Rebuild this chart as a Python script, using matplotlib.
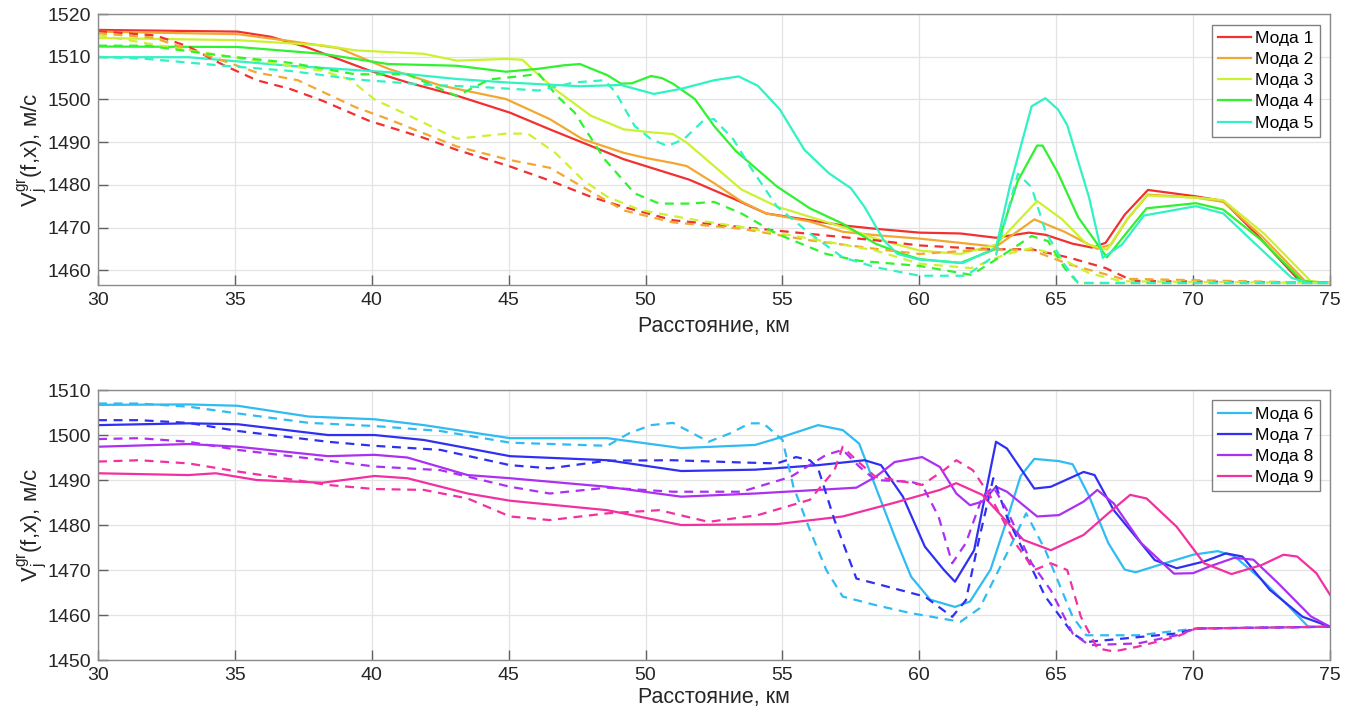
import matplotlib
matplotlib.use('Agg')
import matplotlib.pyplot as plt
import colorsys

plt.rcParams['font.family'] = ['Liberation Sans', 'DejaVu Sans']
plt.rcParams['mathtext.fontset'] = 'custom'
plt.rcParams['mathtext.rm'] = 'Liberation Sans'

### Data: distance in km, group velocity in m/s
# top panel, solid lines
m1_x = [30, 35.1, 36.3, 37.6, 39.9, 41.3, 43.1, 45.05, 46.5, 47.7, 49.2, 50, 51.6, 53.3, 54.4, 56, 57.2, 58.4, 60, 61.5, 62.8, 64.0, 64.6, 65.6, 66.3, 66.8, 67.5, 68.35, 70.1, 71.1, 72.3, 73.9, 75]
m1_v = [1516.3, 1515.9, 1514.7, 1512.3, 1506.8, 1504, 1500.9, 1496.9, 1493, 1489.9, 1486, 1484.4, 1481.2, 1476.5, 1473.3, 1471.7, 1470.5, 1469.7, 1468.8, 1468.6, 1467.6, 1468.8, 1468.3, 1466.2, 1465.3, 1466.4, 1473, 1478.8, 1477.3, 1476.2, 1468.5, 1457.4, 1457]
m2_x = [30, 35.1, 37, 38.8, 40.6, 42.5, 44.9, 46.5, 47.7, 49.2, 50, 51, 51.5, 52.5, 53.5, 54.4, 56, 57.2, 58.4, 60, 61.5, 62.8, 64.2, 65.3, 66.5, 67.0, 67.6, 68.35, 70.1, 71.1, 72.5, 74.1, 75]
m2_v = [1515.9, 1515.3, 1513.7, 1512, 1507.2, 1503.3, 1500.1, 1495.4, 1490.7, 1487.5, 1486.3, 1485.1, 1484.4, 1480.4, 1476.1, 1473.3, 1471.4, 1469, 1468.2, 1467.4, 1466.4, 1465.5, 1471.9, 1469, 1465, 1466, 1472, 1477.7, 1477, 1476, 1468, 1457.4, 1457]
m3_x = [30, 35.1, 38.2, 39.4, 41.9, 43.1, 44.9, 45.5, 46.1, 46.75, 48, 49.2, 50.2, 51, 51.5, 52.5, 53.5, 54.8, 56, 57.2, 58.4, 60, 61.5, 62.8, 64.3, 65.2, 66.1, 66.85, 67.6, 68.3, 70.1, 71.1, 72.6, 74.3, 75]
m3_v = [1514.4, 1513.9, 1512.7, 1511.5, 1510.7, 1509.1, 1509.5, 1509.3, 1505.7, 1502.1, 1496.2, 1493, 1492.3, 1491.9, 1489.9, 1484.4, 1478.9, 1474.9, 1472.5, 1470.1, 1467.4, 1464.6, 1463.8, 1466, 1476.2, 1472, 1466.2, 1464.8, 1472, 1477.5, 1477, 1476.4, 1468.5, 1457.4, 1457]
m4_x = [30, 35.1, 38.2, 40.6, 43.1, 44.9, 46.1, 47.0, 47.6, 48.6, 49.1, 49.5, 50.2, 50.6, 51.0, 51.8, 52.5, 53.3, 54.8, 56, 57.2, 58.4, 59.4, 60, 61.5, 62.8, 63.6, 64.3, 64.5, 65.06, 65.8, 66.85, 67.6, 68.3, 70.1, 71.1, 72.5, 74, 75]
m4_v = [1512.4, 1512.3, 1510.7, 1508.3, 1507.9, 1506.5, 1507.2, 1508.0, 1508.3, 1505.7, 1503.7, 1503.8, 1505.5, 1505.0, 1503.7, 1500.1, 1493.8, 1487.9, 1479.6, 1474.5, 1470.9, 1466.2, 1463.8, 1462.6, 1461.7, 1465, 1481, 1489.2, 1489.2, 1482.8, 1472.4, 1463, 1469, 1474.5, 1475.7, 1474.2, 1467, 1457.4, 1457]
m5_x = [30, 33.3, 37, 40.6, 43.1, 44.9, 46.1, 47.6, 49.1, 50.3, 51.3, 52.5, 53.4, 54.1, 54.9, 55.8, 56.7, 57.5, 58.0, 58.7, 59.2, 60, 61.6, 62.8, 63.3, 64.1, 64.6, 65.06, 65.4, 66.2, 66.7, 67.4, 68.2, 70.1, 71.1, 72.3, 73.6, 74.2, 75]
m5_v = [1509.9, 1509.9, 1507.9, 1506.4, 1504.8, 1504, 1503.6, 1503.1, 1503.4, 1501.3, 1502.5, 1504.5, 1505.4, 1503.2, 1497.7, 1488.2, 1482.7, 1479.2, 1474.8, 1467, 1463.8, 1462.5, 1461.7, 1465.3, 1479.5, 1498.4, 1500.3, 1497.7, 1494, 1477, 1462.9, 1466, 1472.8, 1475, 1473.3, 1466, 1458.2, 1457, 1457]

# top panel, dashed lines
m1d_x = [30, 32.1, 33.3, 34.6, 35.8, 37, 38.2, 39.9, 41.9, 43.1, 45.05, 46.5, 48, 49.2, 51, 53.5, 56, 58.4, 60, 62.5, 64.1, 65.5, 66.8, 67.8, 75]
m1d_v = [1516, 1515, 1512.4, 1508, 1504.5, 1502.5, 1499.7, 1495, 1491, 1488.2, 1484.3, 1481, 1477.2, 1474.8, 1471.7, 1470.1, 1468.5, 1467, 1465.8, 1464.9, 1464.9, 1462.9, 1460.5, 1457.5, 1457]
m2d_x = [30, 32, 34.6, 35.8, 37.3, 39.4, 40.6, 43.1, 45.05, 46.5, 48, 49.2, 51, 53.5, 56, 58.4, 60, 62.5, 64.1, 65.5, 67.4, 75]
m2d_v = [1515.5, 1514.5, 1509, 1506.3, 1504.5, 1498.2, 1495.4, 1489, 1485.8, 1484, 1478.4, 1474, 1471.2, 1469.7, 1467, 1465, 1463.8, 1464.9, 1464.7, 1461.3, 1458, 1457]
m3d_x = [30, 33.3, 35.8, 38.2, 39.2, 40.1, 41.3, 43.1, 44.9, 45.7, 46.7, 47.7, 48.6, 49.8, 51.6, 53.5, 56, 58.4, 60, 61.9, 63.1, 64.1, 64.8, 66.2, 67.4, 75]
m3d_v = [1515.1, 1511.5, 1509.1, 1506.7, 1504.7, 1500, 1496.4, 1490.8, 1492, 1492, 1487.5, 1481.2, 1477.2, 1474.1, 1472, 1470.1, 1467.4, 1464.6, 1461.5, 1460.5, 1463.6, 1465.2, 1464, 1459.3, 1457.4, 1457]
m4d_x = [30, 31.8, 34.6, 37, 39.4, 41.3, 43.1, 44.3, 45.5, 46.1, 46.75, 47.4, 48.5, 49.6, 50.5, 51.6, 52.5, 53.5, 54.8, 56.6, 57.8, 60, 61.9, 62.9, 64.1, 64.7, 65.3, 65.8, 75]
m4d_v = [1512.6, 1512.6, 1510.2, 1508.6, 1505.9, 1505.9, 1500.8, 1504.7, 1505.5, 1506, 1500.9, 1497, 1486, 1478, 1475.6, 1475.6, 1476, 1473.3, 1468.5, 1463.8, 1462.2, 1461, 1458.9, 1462.9, 1468, 1466.8, 1460.5, 1457, 1457]
m5d_x = [30, 31.8, 34.6, 37, 39.4, 41.9, 44.3, 46.1, 47.4, 48.5, 48.9, 49.6, 50.2, 50.8, 51.4, 52.1, 52.5, 53.2, 53.8, 54.8, 56, 57.2, 58.4, 60, 61.7, 62.8, 63.6, 64.1, 64.6, 65.3, 65.8, 75]
m5d_v = [1510, 1509.5, 1507.9, 1506.7, 1504.7, 1503.5, 1502.8, 1502.1, 1504, 1504.5, 1501.7, 1493.8, 1490.7, 1489.1, 1490.7, 1495, 1495.4, 1490.7, 1484.4, 1474.9, 1468.6, 1463, 1460.7, 1458.7, 1458.7, 1463.6, 1482.6, 1479.4, 1469.2, 1461.3, 1457, 1457]

# bottom panel, solid lines
m6_x = [30, 33.3, 35.1, 37.7, 40.1, 41.9, 45.05, 48.6, 51.3, 54, 55, 56.3, 57.2, 57.8, 58.4, 59.1, 59.7, 60.4, 61.3, 61.85, 62.6, 63.2, 63.7, 64.2, 65.1, 65.6, 66.2, 66.9, 67.5, 67.9, 68.8, 70, 70.9, 71.5, 72.5, 73.5, 74.2, 75]
m6_v = [1506.7, 1506.8, 1506.5, 1504.1, 1503.5, 1502.2, 1499.3, 1499.3, 1497.1, 1497.8, 1499.6, 1502.2, 1501.1, 1498.1, 1488.5, 1477.4, 1468.5, 1463.4, 1461.8, 1463, 1470.1, 1481.2, 1490.9, 1494.7, 1494.2, 1493.5, 1486.4, 1476, 1470.1, 1469.5, 1471.2, 1473.4, 1474.2, 1473.1, 1467.9, 1461.9, 1457.4, 1457.4]
m7_x = [30, 33.3, 35.1, 38.4, 40.1, 41.9, 45.05, 48.6, 51.3, 54, 56.3, 58, 58.6, 59.4, 60.2, 60.9, 61.3, 62, 62.8, 63.2, 64.2, 64.8, 66.0, 66.4, 67.1, 67.9, 68.6, 69.4, 70.4, 71.2, 71.8, 72.8, 74, 75]
m7_v = [1502.2, 1502.6, 1502.4, 1500, 1500, 1498.9, 1495.3, 1494.4, 1492, 1492.3, 1493.3, 1494.4, 1493.3, 1486.3, 1475.2, 1470, 1467.4, 1474.4, 1498.5, 1497, 1488.1, 1488.5, 1491.8, 1491.1, 1483.3, 1477.4, 1472.2, 1470.4, 1471.9, 1473.7, 1473, 1465.6, 1459.6, 1457.4]
m8_x = [30, 33.3, 35.1, 38.4, 40.1, 41.3, 43.5, 45.05, 48.6, 51.3, 54, 57.7, 58.4, 59.1, 60.1, 60.75, 61.35, 61.85, 62.3, 62.8, 63.2, 64.3, 65.1, 66, 66.5, 67.1, 68.1, 69.3, 70, 70.6, 71.5, 72.2, 73.1, 74.3, 75]
m8_v = [1497.4, 1498, 1497.4, 1495.3, 1495.6, 1495, 1491.1, 1490.4, 1488.5, 1486.3, 1487, 1488.3, 1490.7, 1494, 1495.1, 1492.9, 1487, 1484.4, 1485.2, 1488.5, 1487.4, 1481.9, 1482.2, 1485.2, 1487.8, 1484.8, 1476, 1469.2, 1469.3, 1470.8, 1472.7, 1472.3, 1467.1, 1459.7, 1457.4]
m9_x = [30, 33.3, 34.3, 35.8, 38.2, 40.1, 41.3, 43.5, 45.05, 48.6, 51.3, 54.8, 57.2, 59.0, 60.75, 61.35, 62.3, 63.8, 64.8, 66, 66.9, 67.7, 68.3, 69.4, 70.4, 71.4, 72.5, 73.3, 73.8, 74.5, 75]
m9_v = [1491.5, 1491.1, 1491.5, 1490, 1489.4, 1490.9, 1490.4, 1487, 1485.4, 1483.3, 1480, 1480.2, 1481.9, 1484.8, 1487.8, 1489.3, 1486.7, 1476.7, 1474.4, 1477.8, 1482.6, 1486.7, 1485.9, 1479.6, 1471.5, 1469.1, 1471.1, 1473.4, 1473, 1469.3, 1464.5]

# bottom panel, dashed lines
m6d_x = [30, 31.5, 33.3, 35.1, 37.7, 40.1, 42.5, 45.05, 48.6, 49.4, 50.2, 51, 51.5, 52.3, 53.1, 53.8, 54.3, 55, 55.4, 56, 56.6, 57.2, 58.4, 59.7, 61.5, 62.2, 63.2, 63.9, 64.6, 65.6, 66.1, 68, 70.1, 75]
m6d_v = [1507, 1507, 1506.3, 1504.8, 1502.7, 1502, 1500.9, 1498.3, 1497.6, 1500.4, 1502.2, 1502.7, 1501.1, 1498.5, 1500.4, 1502.6, 1502.6, 1498.9, 1488.5, 1478.9, 1470, 1464.1, 1462.2, 1460.4, 1458.5, 1461.5, 1473.7, 1482.6, 1474.4, 1459.6, 1455.5, 1455.5, 1457, 1457.4]
m7d_x = [30, 31.5, 33.3, 35.1, 38.4, 40.1, 42.5, 45.05, 46.5, 48.6, 51, 53.5, 54.8, 55.5, 56, 56.3, 56.9, 57.7, 58.4, 60.2, 61.2, 61.7, 62.2, 62.7, 63.2, 63.9, 64.6, 65.6, 66.1, 67.5, 69.4, 70.1, 75]
m7d_v = [1503.3, 1503.3, 1502.7, 1500.9, 1498.5, 1497.6, 1496.7, 1493.3, 1492.6, 1494.3, 1494.4, 1493.9, 1493.7, 1495.1, 1494.4, 1492.6, 1481.1, 1468.1, 1467, 1464.1, 1459.6, 1463.3, 1477.4, 1490.4, 1481.8, 1473, 1464.1, 1455.9, 1454, 1454.8, 1455.9, 1457, 1457.4]
m8d_x = [30, 31.5, 33.3, 35.1, 38.4, 40.1, 42.5, 45.05, 46.5, 48.6, 51, 53.5, 55.3, 56.6, 57.2, 57.8, 58.4, 59.7, 60.1, 60.7, 61.2, 61.7, 62.3, 62.7, 63.2, 64.1, 64.8, 65.6, 66.2, 68, 69.4, 70.1, 75]
m8d_v = [1499.1, 1499.3, 1498.5, 1496.7, 1494.3, 1493, 1492.2, 1488.5, 1487, 1488.3, 1487.4, 1487.4, 1490.7, 1495.6, 1496.7, 1493, 1490, 1489.6, 1488.9, 1481.9, 1471.5, 1476, 1486.3, 1488.5, 1483.3, 1471.5, 1465.5, 1455.9, 1453.3, 1453.7, 1455.5, 1457, 1457.4]
m9d_x = [30, 31.5, 33.3, 35.1, 37.2, 38.4, 40.1, 41.9, 43.5, 45.05, 46.5, 48.6, 50.5, 52.3, 54.1, 56, 56.9, 57.2, 57.7, 58.4, 59.1, 60.1, 60.9, 61.35, 61.95, 62.6, 63.5, 64.2, 64.8, 65.4, 65.9, 66.5, 67.1, 68, 69.4, 70.1, 75]
m9d_v = [1494.1, 1494.4, 1493.7, 1491.9, 1490, 1488.9, 1488, 1487.8, 1485.9, 1481.9, 1481.1, 1482.6, 1483.3, 1480.7, 1482.2, 1485.6, 1492.2, 1497.4, 1494.4, 1490.7, 1490, 1488.9, 1492.2, 1494.4, 1492.2, 1486.3, 1476, 1470, 1471.5, 1470, 1459.6, 1452.6, 1451.9, 1453, 1455.2, 1457, 1457.4]

labels = ['Мода ' + str(i) for i in range(1, 10)]
hues = [0, 37, 72, 120, 165, 197, 240, 278, 325]
###

colors = [colorsys.hsv_to_rgb(h / 360.0, 0.8, 0.95) for h in hues]

solid = [(m1_x, m1_v), (m2_x, m2_v), (m3_x, m3_v), (m4_x, m4_v), (m5_x, m5_v),
         (m6_x, m6_v), (m7_x, m7_v), (m8_x, m8_v), (m9_x, m9_v)]
dashed = [(m1d_x, m1d_v), (m2d_x, m2d_v), (m3d_x, m3d_v), (m4d_x, m4d_v), (m5d_x, m5d_v),
          (m6d_x, m6d_v), (m7d_x, m7d_v), (m8d_x, m8d_v), (m9d_x, m9d_v)]

fig = plt.figure(figsize=(13.58, 7.2), dpi=100)
ax1 = fig.add_axes([0.0722, 0.604, 0.9072, 0.3764])
ax2 = fig.add_axes([0.0722, 0.0833, 0.9072, 0.375])


def style(ax, ylim, yticks, xpad):
    ax.set_xlim(30, 75)
    ax.set_ylim(*ylim)
    ax.set_xticks(range(30, 76, 5))
    ax.set_yticks(yticks)
    ax.grid(True, color='#e3e3e3', linewidth=0.9)
    ax.set_axisbelow(True)
    for s in ax.spines.values():
        s.set_color('#8a8a8a')
        s.set_linewidth(1.0)
    ax.tick_params(direction='in', length=7, width=1, color='#606060',
                   labelsize=14, labelcolor='#262626', pad=5)
    ax.set_xlabel('Расстояние, км', fontsize=15.5, color='#262626', labelpad=xpad)
    ax.set_ylabel(r'$\mathregular{V_j^{gr}}$(f,x), м/с', fontsize=16, color='#262626', labelpad=-1)


for ax, idx in [(ax1, range(0, 5)), (ax2, range(5, 9))]:
    lines = []
    for i in idx:
        l, = ax.plot(solid[i][0], solid[i][1], color=colors[i], lw=1.6, label=labels[i])
        lines.append(l)
    for i in idx:
        ax.plot(dashed[i][0], dashed[i][1], color=colors[i], lw=1.6, ls=(0, (4, 3)))
    leg = ax.legend(handles=lines, loc='upper right', fontsize=12.5, frameon=True, fancybox=False,
                    handlelength=1.9, handletextpad=0.25, borderpad=0.35, labelspacing=0.35,
                    borderaxespad=0.6)
    leg.get_frame().set_edgecolor('#606060')
    leg.get_frame().set_linewidth(1.0)

style(ax1, (1456.5, 1520), range(1460, 1521, 10), 5)
style(ax2, (1450, 1510), range(1450, 1511, 10), 2)

plt.savefig('out.png', dpi=100)
